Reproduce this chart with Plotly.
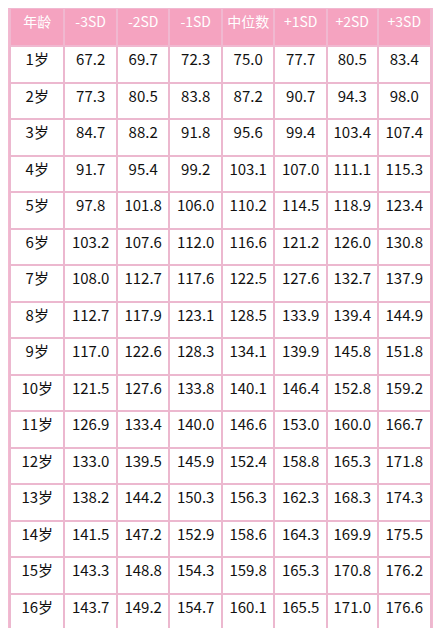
import plotly.graph_objects as go

headers = ["年龄", "-3SD", "-2SD", "-1SD", "中位数", "+1SD", "+2SD", "+3SD"]
ages = [f"{i}岁" for i in range(1, 17)]
sd_m3 = [67.2, 77.3, 84.7, 91.7, 97.8, 103.2, 108.0, 112.7, 117.0, 121.5, 126.9, 133.0, 138.2, 141.5, 143.3, 143.7]
sd_m2 = [69.7, 80.5, 88.2, 95.4, 101.8, 107.6, 112.7, 117.9, 122.6, 127.6, 133.4, 139.5, 144.2, 147.2, 148.8, 149.2]
sd_m1 = [72.3, 83.8, 91.8, 99.2, 106.0, 112.0, 117.6, 123.1, 128.3, 133.8, 140.0, 145.9, 150.3, 152.9, 154.3, 154.7]
median = [75.0, 87.2, 95.6, 103.1, 110.2, 116.6, 122.5, 128.5, 134.1, 140.1, 146.6, 152.4, 156.3, 158.6, 159.8, 160.1]
sd_p1 = [77.7, 90.7, 99.4, 107.0, 114.5, 121.2, 127.6, 133.9, 139.9, 146.4, 153.0, 158.8, 162.3, 164.3, 165.3, 165.5]
sd_p2 = [80.5, 94.3, 103.4, 111.1, 118.9, 126.0, 132.7, 139.4, 145.8, 152.8, 160.0, 165.3, 168.3, 169.9, 170.8, 171.0]
sd_p3 = [83.4, 98.0, 107.4, 115.3, 123.4, 130.8, 137.9, 144.9, 151.8, 159.2, 166.7, 171.8, 174.3, 175.5, 176.2, 176.6]

cols = [ages] + [[f"{v:.1f}" for v in s] for s in (sd_m3, sd_m2, sd_m1, median, sd_p1, sd_p2, sd_p3)]

fig = go.Figure(go.Table(
    columnwidth=[57, 55, 55, 55, 55, 55, 53, 56],
    header=dict(values=headers, fill_color="#f5a3c0", line_color="#f0b8d0", line_width=2,
                font=dict(color="white", size=14, family="Noto Sans CJK SC"),
                align="center", height=38),
    cells=dict(values=cols, fill_color="white", line_color="#ecb8cf", line_width=2,
               font=dict(color="#111111", size=15, family="Noto Sans CJK SC"),
               align="center", height=36.5),
    domain=dict(x=[0, 1], y=[0, 1]),
))
fig.update_layout(width=425, height=620, margin=dict(l=2, r=2, t=0, b=0),
                  paper_bgcolor="#f3b9d1")
fig.write_html("out.html")
